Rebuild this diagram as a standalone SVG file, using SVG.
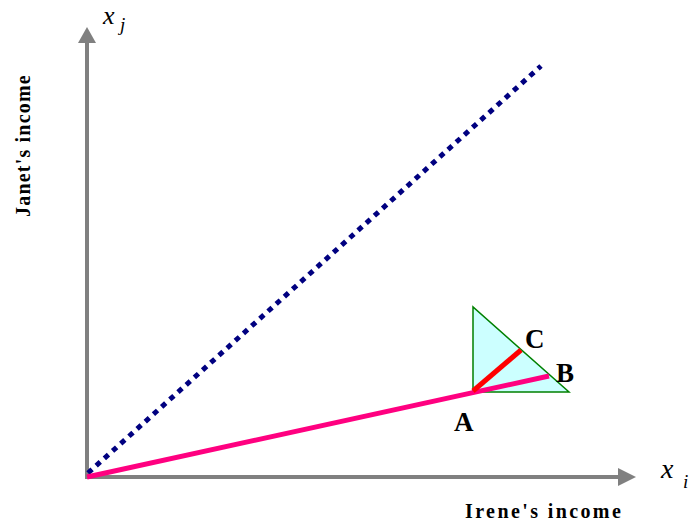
<svg xmlns="http://www.w3.org/2000/svg" width="690" height="527" viewBox="0 0 690 527">
<style>
.axis{stroke:#808080;stroke-width:4;fill:none}
.head{fill:#808080}
.lbl{font-family:"Liberation Serif",serif;font-weight:bold;font-size:27px;fill:#000}
.ax{font-family:"Liberation Serif",serif;font-weight:bold;font-size:20px;fill:#000}
.var{font-family:"Liberation Serif",serif;font-style:italic;fill:#000}
</style>
<rect width="690" height="527" fill="#fff"/>
<g id="axes">
<line class="axis" x1="87" y1="477" x2="87" y2="42"/>
<polygon class="head" points="87,27 78,43 96,43"/>
<line class="axis" x1="85" y1="477" x2="620" y2="477"/>
<polygon class="head" points="636,477 618,468 618,486"/>
</g>
<g id="triangle">
<polygon points="473,307 473,392 569,392" fill="#ccffff" stroke="#008000" stroke-width="1.5"/>
</g>
<g id="connectors">
<line x1="88" y1="473" x2="541" y2="66" stroke="#000080" stroke-width="5" stroke-dasharray="5.5 5.5"/>
<line x1="87" y1="477" x2="549" y2="376" stroke="#ff0080" stroke-width="5"/>
<line x1="473" y1="391" x2="521" y2="350" stroke="#ff0000" stroke-width="5"/>
</g>
<g id="labels">
<text class="lbl" x="454" y="431">A</text>
<text class="lbl" x="556" y="382">B</text>
<text class="lbl" x="525" y="348">C</text>
<text class="var" x="103" y="23.5" font-size="26">x</text>
<text class="var" x="120" y="31" font-size="19">j</text>
<text class="var" x="661" y="478" font-size="28">x</text>
<text class="var" x="683" y="488" font-size="19">i</text>
<text class="ax" x="465" y="518" letter-spacing="2.4">Irene's income</text>
<text class="ax" transform="translate(30,217) rotate(-90)" letter-spacing="1.2">Janet's income</text>
</g>
</svg>
